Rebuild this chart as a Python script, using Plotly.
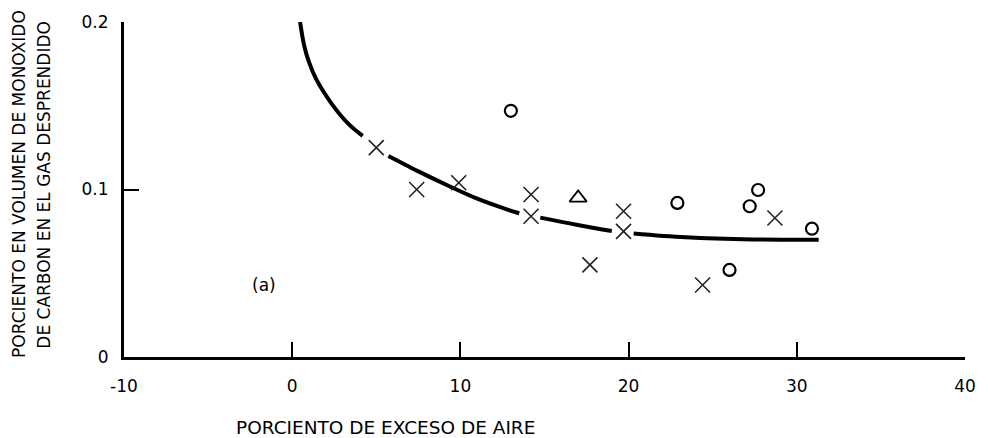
import plotly.graph_objects as go

# Curve (segments separated by gaps where crosses interrupt the line)
curve_x = [0.47, 0.71, 1.0, 1.42, 2.36, 3.36, 4.19, None,
           5.72, 6.78, 7.5, 9.44, 11.0, 12.8, 13.5, None,
           14.75, 16.9, 19.0, None,
           20.3, 23.4, 27.4, 31.3]
curve_y = [0.200, 0.186, 0.176, 0.166, 0.151, 0.139, 0.132, None,
           0.120, 0.1145, 0.1108, 0.1015, 0.0945, 0.0880, 0.0858, None,
           0.0832, 0.0790, 0.0752, None,
           0.0738, 0.0715, 0.0702, 0.0700]

cross_x = [5.0, 7.4, 9.9, 14.2, 14.2, 17.7, 19.7, 19.7, 24.4, 28.7]
cross_y = [0.125, 0.100, 0.104, 0.097, 0.084, 0.055, 0.087, 0.075, 0.043, 0.083]

circle_x = [13.0, 22.9, 26.0, 27.2, 27.7, 30.9]
circle_y = [0.147, 0.092, 0.052, 0.090, 0.0997, 0.0766]

triangle_x = [17.0]
triangle_y = [0.095]

x_tick_vals = [-10, 0, 10, 20, 30, 40]
x_tick_labels = ["-10", "0", "10", "20", "30", "40"]
y_tick_vals = [0, 0.1, 0.2]
y_tick_labels = ["0", "0.1", "0.2"]

x_title = "PORCIENTO DE EXCESO DE AIRE"
y_title_1 = "PORCIENTO EN VOLUMEN DE MONOXIDO"
y_title_2 = "DE CARBON EN EL GAS DESPRENDIDO"
panel_label = "(a)"
panel_pos = (-1.65, 0.043)

FONT = "DejaVu Sans"

fig = go.Figure()
fig.add_trace(go.Scatter(x=curve_x, y=curve_y, mode="lines", connectgaps=False,
                         line=dict(color="black", width=4, shape="spline", smoothing=1.0),
                         showlegend=False, hoverinfo="skip"))
fig.add_trace(go.Scatter(x=cross_x, y=cross_y, mode="markers", showlegend=False,
                         marker=dict(symbol="x-thin", size=15, color="black",
                                     line=dict(color="#222", width=1.6))))
fig.add_trace(go.Scatter(x=circle_x, y=circle_y, mode="markers", showlegend=False,
                         marker=dict(symbol="circle-open", size=12, color="black",
                                     line=dict(color="black", width=2.2))))
fig.add_trace(go.Scatter(x=triangle_x, y=triangle_y, mode="markers", showlegend=False,
                         marker=dict(symbol="triangle-up-open", size=15, color="black",
                                     line=dict(color="black", width=1.8))))

fig.add_annotation(x=panel_pos[0], y=panel_pos[1], text=panel_label, showarrow=False,
                   font=dict(family=FONT, size=17, color="black"))

# Axis titles as annotations
fig.add_annotation(xref="paper", yref="paper", x=(388 - 124) / 848, y=-(428 - 357) / 337,
                   text=x_title, showarrow=False, xanchor="center", yanchor="middle",
                   font=dict(family=FONT, size=18.5, color="black"))
fig.add_annotation(xref="paper", yref="paper", x=(18 - 124) / 848, y=(357 - 183) / 337,
                   text=y_title_1, showarrow=False, textangle=-90, xanchor="center",
                   yanchor="middle", font=dict(family=FONT, size=17, color="black"))
fig.add_annotation(xref="paper", yref="paper", x=(43 - 124) / 848, y=(357 - 184) / 337,
                   text=y_title_2, showarrow=False, textangle=-90, xanchor="center",
                   yanchor="middle", font=dict(family=FONT, size=17, color="black"))

fig.update_xaxes(range=[-10, 40], tickvals=x_tick_vals, ticktext=x_tick_labels,
                 ticks="inside", ticklen=15, tickwidth=2, tickcolor="black",
                 showline=True, linecolor="black", linewidth=3, showgrid=False,
                 zeroline=False, ticklabelstandoff=12, layer="above traces",
                 tickfont=dict(family=FONT, size=17, color="black"))
fig.update_yaxes(range=[0, 0.2], tickvals=y_tick_vals, ticktext=y_tick_labels,
                 ticks="inside", ticklen=15, tickwidth=2, tickcolor="black",
                 showline=True, linecolor="black", linewidth=3, showgrid=False,
                 zeroline=False, ticklabelstandoff=9,
                 tickfont=dict(family=FONT, size=17, color="black"))

fig.update_layout(width=988, height=438, margin=dict(l=124, r=16, t=20, b=81),
                  plot_bgcolor="white", paper_bgcolor="white",
                  font=dict(family=FONT, color="black"))

fig.write_html("out.html")
